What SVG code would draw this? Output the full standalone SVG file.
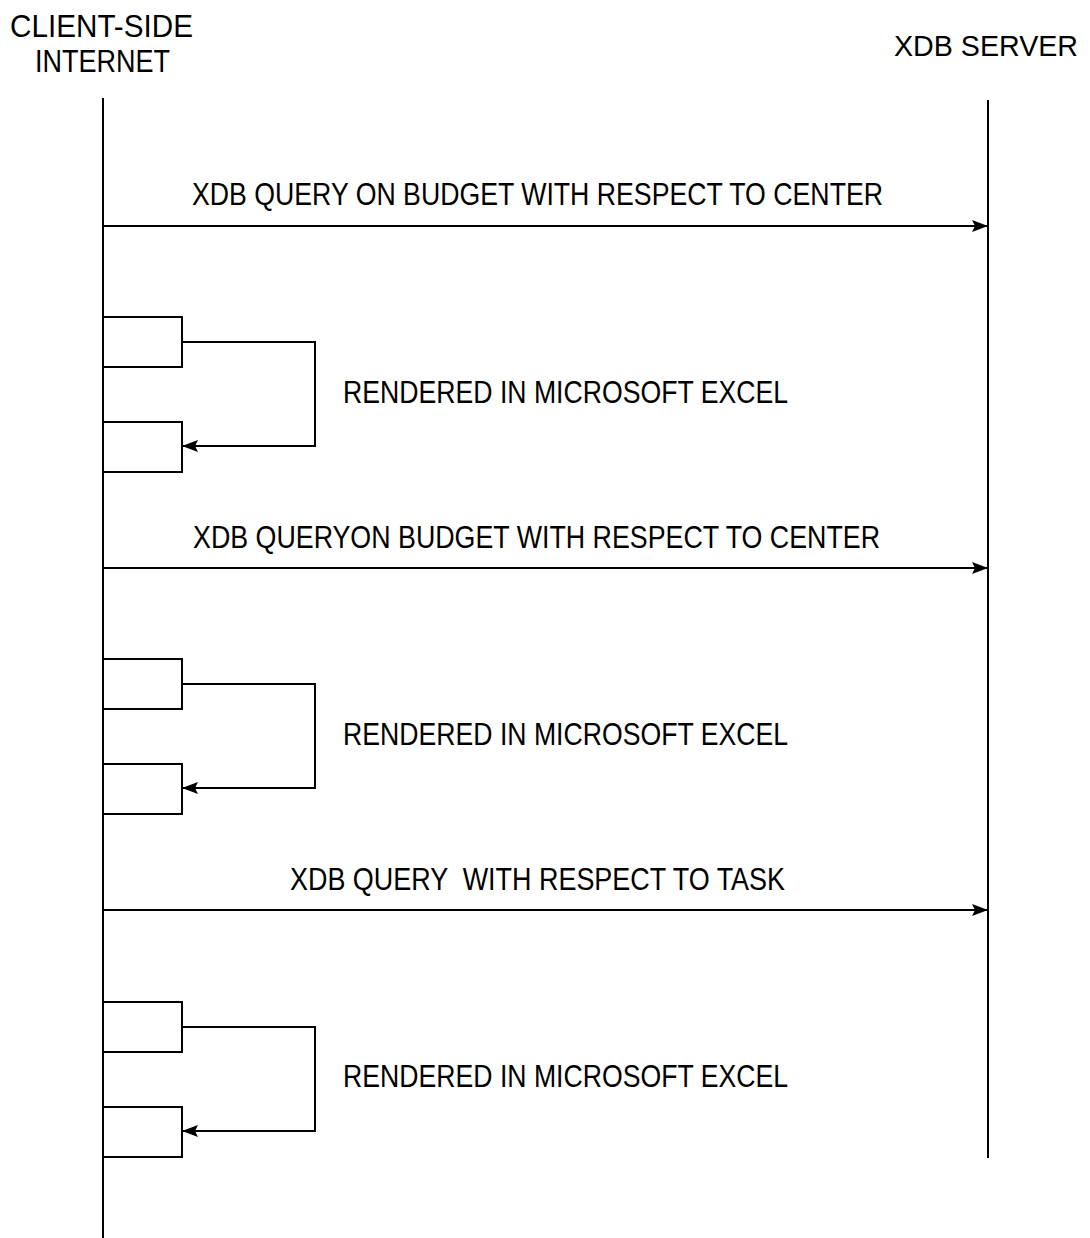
<svg xmlns="http://www.w3.org/2000/svg" width="1090" height="1238" viewBox="0 0 1090 1238">
<defs>
<style>
.t{font-family:"Liberation Sans",Arial,sans-serif;font-size:32px;fill:#000}
.ln{stroke:#000;stroke-width:2;fill:none}
</style>
<marker id="ah" viewBox="0 0 16 12" refX="16" refY="6" markerWidth="16" markerHeight="12" markerUnits="userSpaceOnUse" orient="auto">
<path d="M0,0 L16,6 L0,12 L3,6 Z" fill="#000"/>
</marker>
</defs>
<rect width="1090" height="1238" fill="#fff"/>
<g id="client">
<text class="t" x="10" y="37" textLength="183" lengthAdjust="spacingAndGlyphs">CLIENT-SIDE</text>
<text class="t" x="35" y="72" textLength="135" lengthAdjust="spacingAndGlyphs">INTERNET</text>
<line class="ln" x1="103" y1="98" x2="103" y2="1238"/>
</g>
<g id="server">
<text class="t" x="894" y="56" style="font-size:29px" textLength="184" lengthAdjust="spacingAndGlyphs">XDB SERVER</text>
<line class="ln" x1="988" y1="100" x2="988" y2="1158"/>
</g>
<g id="act1"><rect class="ln" x="103" y="317" width="79" height="50"/><rect class="ln" x="103" y="422" width="79" height="50"/></g>
<g id="act2"><rect class="ln" x="103" y="659" width="79" height="50"/><rect class="ln" x="103" y="764" width="79" height="50"/></g>
<g id="act3"><rect class="ln" x="103" y="1002" width="79" height="50"/><rect class="ln" x="103" y="1107" width="79" height="50"/></g>
<g id="connectors">
<line class="ln" x1="103" y1="226" x2="988" y2="226" marker-end="url(#ah)"/>
<line class="ln" x1="103" y1="568" x2="988" y2="568" marker-end="url(#ah)"/>
<line class="ln" x1="103" y1="910" x2="988" y2="910" marker-end="url(#ah)"/>
<polyline class="ln" points="182,342 315,342 315,446 182,446" marker-end="url(#ah)"/>
<polyline class="ln" points="182,684 315,684 315,788 182,788" marker-end="url(#ah)"/>
<polyline class="ln" points="182,1027 315,1027 315,1131 182,1131" marker-end="url(#ah)"/>
</g>
<g id="labels">
<text class="t" x="192" y="205" textLength="691" lengthAdjust="spacingAndGlyphs">XDB QUERY ON BUDGET WITH RESPECT TO CENTER</text>
<text class="t" x="343" y="403" textLength="445" lengthAdjust="spacingAndGlyphs">RENDERED IN MICROSOFT EXCEL</text>
<text class="t" x="193" y="548" textLength="687" lengthAdjust="spacingAndGlyphs">XDB QUERYON BUDGET WITH RESPECT TO CENTER</text>
<text class="t" x="343" y="745" textLength="445" lengthAdjust="spacingAndGlyphs">RENDERED IN MICROSOFT EXCEL</text>
<text class="t" x="290" y="890" textLength="495" lengthAdjust="spacingAndGlyphs" xml:space="preserve">XDB QUERY  WITH RESPECT TO TASK</text>
<text class="t" x="343" y="1087" textLength="445" lengthAdjust="spacingAndGlyphs">RENDERED IN MICROSOFT EXCEL</text>
</g>
</svg>
